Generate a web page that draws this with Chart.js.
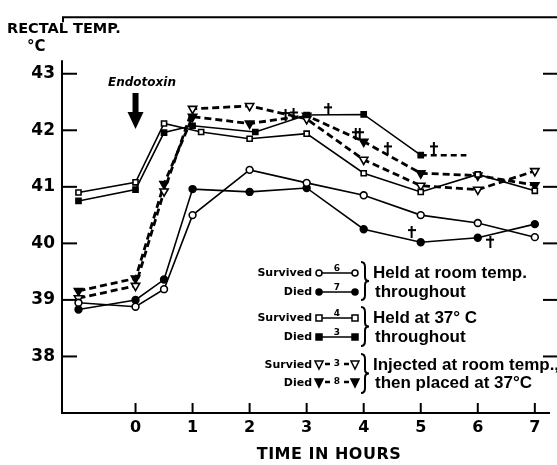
<!DOCTYPE html>
<html>
<head>
<meta charset="utf-8">
<script src="https://cdn.jsdelivr.net/npm/chart.js@4/dist/chart.umd.min.js"></script>
<style>
  html, body { margin: 0; padding: 0; background: #fff; }
  #wrap { width: 557px; height: 465px; }
</style>
</head>
<body>
<div id="wrap"><canvas id="tempChart"></canvas></div>
<script>
// hours after endotoxin and rectal temperature (°C)
const hours = [-1, 0, 0.5, 1, 2, 3, 4, 5, 6, 7];
const roomSurvived = [38.95, 38.88, 39.19, 40.5, 41.3, 41.07, 40.85, 40.5, 40.36, 40.11];
const roomDied = [38.83, 39.0, 39.36, 40.96, 40.91, 40.98, 40.25, 40.02, 40.1, 40.34];

const warmSurvivedHours = [-1, 0, 0.5, 1.15, 2, 3, 4, 5, 6, 7];
const warmSurvived = [40.9, 41.08, 42.12, 41.97, 41.85, 41.94, 41.24, 40.91, 41.22, 40.93];
const warmDiedHours = [-1, 0, 0.5, 1, 2.1, 3, 4, 5];
const warmDied = [40.75, 40.95, 41.96, 42.08, 41.97, 42.27, 42.28, 41.56];
const warmDiedTailHours = [5, 5.8];
const warmDiedTail = [41.56, 41.56];

const shiftSurvived = [39.03, 39.25, 40.92, 42.38, 42.43, 42.2, 41.48, 41.02, 40.95, 41.28];
const shiftDied = [39.16, 39.38, 41.05, 42.24, 42.12, 42.26, 41.8, 41.24, 41.2, 41.03];

// † marks (deaths)
const deathHours = [2.63, 2.77, 3.38, 3.86, 3.93, 4.42, 4.84, 5.23, 6.22];
const deathTemps = [42.27, 42.28, 42.37, 41.93, 41.93, 41.68, 40.2, 41.68, 40.03];

const xTicks = [0, 1, 2, 3, 4, 5, 6, 7];
const yTicks = [38, 39, 40, 41, 42, 43];

const groupLabels = ["Survived", "Died", "Survived", "Died", "Survied", "Died"];
const groupCounts = ["6", "7", "4", "3", "3", "8"];
const groupNotes = [
  ["Held at room temp.", "throughout"],
  ["Held at 37° C", "throughout"],
  ["Injected at room temp.,", "then placed at 37°C"],
];

const pts = (xs, ys) => xs.map((x, i) => ({ x: x, y: ys[i] }));

// dagger used as point style for the death marks
const dagger = document.createElement("canvas");
dagger.width = 8;
dagger.height = 12;
(() => {
  const c = dagger.getContext("2d");
  c.fillStyle = "#000";
  c.fillRect(3, 0, 2, 12);
  c.fillRect(0, 3, 8, 2);
})();

const solid = (data, style, filled) => ({
  data: data,
  showLine: true,
  borderColor: "#000",
  borderWidth: 1.6,
  pointStyle: style,
  pointRadius: style === "rect" ? 3.6 : 3.4,
  pointBorderWidth: 1.6,
  pointBorderColor: "#000",
  pointBackgroundColor: filled ? "#000" : "#fff",
});

const dashed = (data, filled) => ({
  data: data,
  showLine: true,
  borderColor: "#000",
  borderWidth: 2.8,
  borderDash: [7, 4],
  pointStyle: "triangle",
  rotation: 180,
  pointRadius: 4.8,
  pointBorderWidth: 1.6,
  pointBorderColor: "#000",
  pointBackgroundColor: filled ? "#000" : "#fff",
});

const line = (ctx, x1, y1, x2, y2) => {
  ctx.beginPath();
  ctx.moveTo(x1, y1);
  ctx.lineTo(x2, y2);
  ctx.stroke();
};

const brace = (ctx, x, y1, y2) => {
  const m = (y1 + y2) / 2;
  const w = 4;
  ctx.beginPath();
  ctx.moveTo(x, y1);
  ctx.quadraticCurveTo(x + w, y1, x + w, y1 + 5);
  ctx.lineTo(x + w, m - 4);
  ctx.quadraticCurveTo(x + w, m, x + 2 * w, m);
  ctx.quadraticCurveTo(x + w, m, x + w, m + 4);
  ctx.lineTo(x + w, y2 - 5);
  ctx.quadraticCurveTo(x + w, y2, x, y2);
  ctx.stroke();
};

const drawSymbol = (ctx, row, y) => {
  const x1 = 319;
  const x2 = 355;
  const filled = row % 2 === 1;
  ctx.fillStyle = "#000";
  ctx.strokeStyle = "#000";
  ctx.lineWidth = 1.5;
  if (row < 4) {
    line(ctx, x1, y, x2, y);
    [x1, x2].forEach((x) => {
      ctx.beginPath();
      if (row < 2) ctx.arc(x, y, 3, 0, Math.PI * 2);
      else ctx.rect(x - 3, y - 3, 6, 6);
      ctx.fillStyle = filled ? "#000" : "#fff";
      ctx.fill();
      ctx.stroke();
    });
    ctx.fillStyle = "#000";
    ctx.font = "bold 9px 'DejaVu Sans'";
    ctx.textAlign = "center";
    ctx.textBaseline = "alphabetic";
    ctx.fillText(groupCounts[row], (x1 + x2) / 2, y - 2);
  } else {
    ctx.lineWidth = 2.5;
    line(ctx, x1 + 6, y - 1, x1 + 11, y - 1);
    line(ctx, x2 - 11, y - 1, x2 - 6, y - 1);
    ctx.lineWidth = 1.5;
    [x1, x2].forEach((x) => {
      ctx.beginPath();
      ctx.moveTo(x - 4, y - 4);
      ctx.lineTo(x + 4, y - 4);
      ctx.lineTo(x, y + 4);
      ctx.closePath();
      ctx.fillStyle = filled ? "#000" : "#fff";
      ctx.fill();
      ctx.stroke();
    });
    ctx.fillStyle = "#000";
    ctx.font = "bold 9px 'DejaVu Sans'";
    ctx.textAlign = "center";
    ctx.textBaseline = "alphabetic";
    ctx.fillText(groupCounts[row], (x1 + x2) / 2, y + 1);
  }
};

const frame = {
  id: "frame",
  afterDraw(chart) {
    const { ctx, chartArea: a } = chart;
    const x = chart.scales.x;
    const y = chart.scales.y;
    ctx.save();
    ctx.strokeStyle = "#000";
    ctx.fillStyle = "#000";
    ctx.lineWidth = 2;

    // axes and frame
    line(ctx, a.left, y.getPixelForValue(43.24), a.left, a.bottom + 1);
    line(ctx, a.left - 1, a.bottom, a.right, a.bottom);
    line(ctx, a.left + 1, a.top + 5, a.left + 1, a.top);
    line(ctx, a.left, a.top, 557, a.top);

    // inward ticks
    yTicks.forEach((v) => {
      const py = y.getPixelForValue(v);
      line(ctx, a.left, py, a.left + 15, py);
      line(ctx, a.right - 7, py, 557, py);
    });
    xTicks.forEach((v) => {
      const px = x.getPixelForValue(v);
      line(ctx, px, a.bottom, px, a.bottom - 10);
    });

    // axis captions
    ctx.textBaseline = "middle";
    ctx.textAlign = "left";
    ctx.font = "bold 14.5px 'DejaVu Sans'";
    ctx.fillText("RECTAL TEMP.", 7, 29);
    ctx.font = "bold 15px 'DejaVu Sans'";
    ctx.fillText("°C", 27, 47);
    ctx.textAlign = "center";
    ctx.font = "bold 16px 'DejaVu Sans'";
    ctx.letterSpacing = "0.5px";
    ctx.fillText("TIME IN HOURS", 329, 455);
    ctx.letterSpacing = "0px";

    // endotoxin arrow at hour 0
    const ax = x.getPixelForValue(0);
    ctx.font = "italic bold 12px 'DejaVu Sans'";
    ctx.fillText("Endotoxin", 142, 83);
    ctx.fillRect(ax - 3, 93, 6, 20);
    ctx.beginPath();
    ctx.moveTo(ax - 8, 112);
    ctx.lineTo(ax + 8, 112);
    ctx.lineTo(ax, 129);
    ctx.closePath();
    ctx.fill();

    // legend
    const rowsY = [273, 292, 318, 337, 365, 383];
    rowsY.forEach((ry, i) => {
      ctx.fillStyle = "#000";
      ctx.textAlign = "right";
      ctx.textBaseline = "middle";
      ctx.font = "bold 11px 'DejaVu Sans'";
      ctx.fillText(groupLabels[i], 312, ry);
      drawSymbol(ctx, i, ry);
    });
    ctx.strokeStyle = "#000";
    ctx.lineWidth = 2;
    brace(ctx, 361, 262, 300);
    brace(ctx, 361, 307, 346);
    brace(ctx, 361, 354, 393);
    ctx.fillStyle = "#000";
    ctx.textAlign = "left";
    ctx.textBaseline = "middle";
    ctx.font = "bold 17px 'Liberation Sans'";
    groupNotes.forEach((note, g) => {
      ctx.fillText(note[0], 373, rowsY[g * 2]);
      ctx.fillText(note[1], 375, rowsY[g * 2 + 1]);
    });
    ctx.restore();
  },
};

new Chart(document.getElementById("tempChart"), {
  type: "scatter",
  data: {
    datasets: [
      solid(pts(hours, roomSurvived), "circle", false),
      solid(pts(hours, roomDied), "circle", true),
      solid(pts(warmSurvivedHours, warmSurvived), "rect", false),
      solid(pts(warmDiedHours, warmDied), "rect", true),
      {
        data: pts(warmDiedTailHours, warmDiedTail),
        showLine: true,
        borderColor: "#000",
        borderWidth: 2.5,
        borderDash: [6, 4],
        pointRadius: 0,
      },
      dashed(pts(hours, shiftSurvived), false),
      dashed(pts(hours, shiftDied), true),
      {
        data: pts(deathHours, deathTemps),
        pointStyle: dagger,
        pointRadius: 6,
      },
    ],
  },
  options: {
    responsive: true,
    maintainAspectRatio: false,
    animation: false,
    layout: { padding: { top: 10, right: 4, left: 0, bottom: 0 } },
    scales: {
      x: {
        type: "linear",
        min: -1.289,
        max: 7.266,
        afterBuildTicks: (s) => (s.ticks = xTicks.map((v) => ({ value: v }))),
        afterFit: (s) => (s.height = 52),
        grid: { display: false, drawTicks: false },
        border: { display: false },
        ticks: {
          padding: 5,
          color: "#000",
          font: { family: "DejaVu Sans", size: 16, weight: "bold" },
        },
      },
      y: {
        min: 37,
        max: 44,
        afterBuildTicks: (s) => (s.ticks = yTicks.map((v) => ({ value: v }))),
        afterFit: (s) => (s.width = 62),
        grid: { display: false, drawTicks: false },
        border: { display: false },
        ticks: {
          padding: 7,
          color: "#000",
          font: { family: "DejaVu Sans", size: 17, weight: "bold" },
        },
      },
    },
    plugins: {
      legend: { display: false },
      tooltip: { enabled: false },
    },
  },
  plugins: [frame],
});
</script>
</body>
</html>
